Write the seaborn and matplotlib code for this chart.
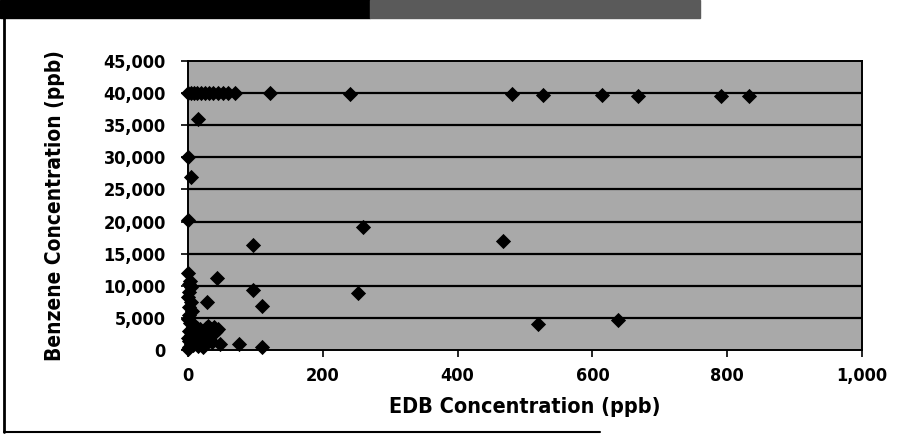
import matplotlib
matplotlib.use("Agg")
import matplotlib.pyplot as plt
import seaborn as sns
import pandas as pd
from matplotlib.patches import Rectangle
from matplotlib.lines import Line2D
from matplotlib.ticker import FuncFormatter

# EDB concentration (ppb)
edb = [
    # ~40,000 row
    0, 4, 9, 14, 19, 25, 31, 37, 44, 52, 60, 70, 122, 240, 481, 527, 614, 668, 791, 832,
    # upper scattered
    15, 0, 5, 0, 260, 97, 468,
    # mid / low scattered
    43, 97, 28, 110, 252, 75, 110, 519, 638,
    # cluster near origin
    0, 3, 1, 5, 2, 0, 4, 1, 6, 2, 0, 3, 8, 1, 5, 0, 2, 4, 1, 0,
    10, 14, 18, 22, 26, 30, 34, 38, 42, 12, 16, 20, 24, 28, 32, 36, 8, 15, 22, 40, 45, 48,
]
# Benzene concentration (ppb)
benzene = [
    40000, 40000, 40000, 40000, 40000, 40000, 40000, 40000, 40000, 40000, 40000, 40000,
    40000, 39900, 39800, 39700, 39700, 39600, 39500, 39500,
    36000, 30000, 27000, 20300, 19200, 16300, 17000,
    11200, 9300, 7500, 6800, 8800, 900, 400, 4000, 4700,
    12000, 10700, 10300, 9800, 9000, 8200, 7400, 6700, 6000, 5400, 4800, 4200, 3600, 3000,
    2400, 1900, 1400, 900, 500, 200,
    3800, 3500, 3200, 3000, 3400, 3700, 3300, 3600, 3000, 2200, 2600, 2000, 1700, 2500,
    1500, 1200, 800, 600, 400, 2800, 3200, 1000,
]

x_ticks = [0, 200, 400, 600, 800, 1000]
y_ticks = [0, 5000, 10000, 15000, 20000, 25000, 30000, 35000, 40000, 45000]

df = pd.DataFrame({"EDB": edb, "Benzene": benzene})

sns.set_theme(style="white")
plt.rcParams['font.family'] = ['DejaVu Sans']
plt.rcParams['font.stretch'] = 'condensed'
plt.rcParams['text.color'] = 'black'
plt.rcParams['axes.labelcolor'] = 'black'
plt.rcParams['xtick.color'] = 'black'
plt.rcParams['ytick.color'] = 'black'

fig = plt.figure(figsize=(9.24, 4.38), dpi=100)
ax = fig.add_axes([188 / 924, 88 / 438, (862 - 188) / 924, (377 - 88) / 438])
ax.set_facecolor('#a9a9a9')

for yv in y_ticks[1:-1]:
    ax.axhline(yv, color='black', lw=1.6, zorder=1)

sns.scatterplot(data=df, x="EDB", y="Benzene", ax=ax, marker='D', s=60,
                color='black', edgecolor='black', linewidth=0, zorder=3,
                clip_on=False, legend=False)

ax.set_xlim(0, 1000)
ax.set_ylim(0, 45000)
ax.set_xticks(x_ticks)
ax.set_yticks(y_ticks)
fmt = FuncFormatter(lambda v, p: f"{int(v):,}")
ax.xaxis.set_major_formatter(fmt)
ax.yaxis.set_major_formatter(fmt)
ax.tick_params(axis='both', which='major', direction='out', length=5, width=1.2,
               color='black', labelcolor='black', labelsize=13, bottom=True, left=True)
ax.tick_params(axis='x', pad=7)
ax.tick_params(axis='y', pad=11)
for lab in ax.get_xticklabels() + ax.get_yticklabels():
    lab.set_fontweight('bold')
    lab.set_fontstretch('condensed')
for s in ax.spines.values():
    s.set_color('black')
    s.set_linewidth(1.4)

ax.set_xlabel("EDB Concentration (ppb)", fontsize=15.5, fontweight='bold', fontstretch='condensed',
              labelpad=9, color='black')
ax.set_ylabel("Benzene Concentration (ppb)", fontsize=15, fontweight='bold', fontstretch='condensed',
              labelpad=28, color='black')

# decorative frame of the scanned figure
fig.patches.append(Rectangle((0, 1 - 18 / 438), 370 / 924, 18 / 438, transform=fig.transFigure,
                             color='black', zorder=0))
fig.patches.append(Rectangle((370 / 924, 1 - 18 / 438), 330 / 924, 18 / 438, transform=fig.transFigure,
                             color='#5a5a5a', zorder=0))
fig.lines.append(Line2D([4 / 924, 4 / 924], [6 / 438, 1 - 18 / 438], transform=fig.transFigure,
                        color='black', lw=2))
fig.lines.append(Line2D([4 / 924, 600 / 924], [6 / 438, 6 / 438], transform=fig.transFigure,
                        color='black', lw=1.5))

fig.savefig("out.png", dpi=100)
